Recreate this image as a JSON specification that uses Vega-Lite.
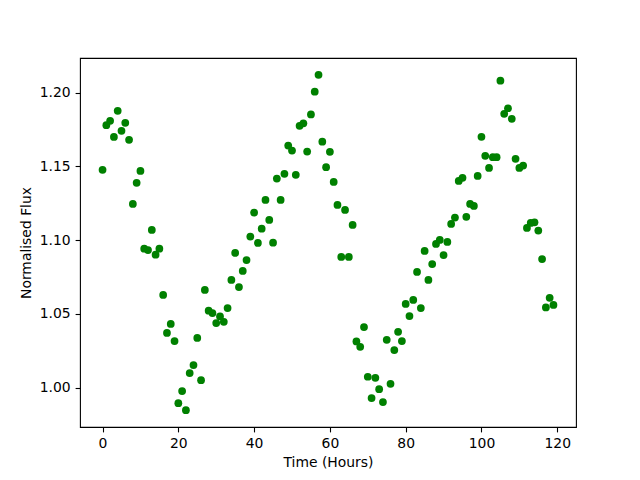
{
  "$schema": "https://vega.github.io/schema/vega-lite/v6.json",
  "width": 496,
  "height": 369,
  "padding": {"left": 80, "top": 58, "right": 64, "bottom": 53},
  "autosize": {"type": "none"},
  "background": "white",
  "config": {
    "font": "DejaVu Sans",
    "view": {"stroke": "black", "strokeWidth": 1.1},
    "axis": {
      "domain": false,
      "grid": false,
      "tickColor": "black",
      "tickWidth": 1.1,
      "tickSize": 4.9,
      "labelColor": "black",
      "labelFont": "DejaVu Sans",
      "labelFontSize": 13.9,
      "labelPadding": 5,
      "titleFont": "DejaVu Sans",
      "titleFontSize": 13.9,
      "titleFontWeight": "normal",
      "titleColor": "black"
    }
  },
  "data": {
    "values": [
      {"t": 0, "f": 1.1477}, {"t": 1, "f": 1.178}, {"t": 2, "f": 1.181}, {"t": 3, "f": 1.170},
      {"t": 4, "f": 1.1878}, {"t": 5, "f": 1.1742}, {"t": 6, "f": 1.1796}, {"t": 7, "f": 1.1681},
      {"t": 8, "f": 1.1246}, {"t": 9, "f": 1.1389}, {"t": 10, "f": 1.147}, {"t": 11, "f": 1.0942},
      {"t": 12, "f": 1.0933}, {"t": 13, "f": 1.1069}, {"t": 14, "f": 1.0901}, {"t": 15, "f": 1.0942},
      {"t": 16, "f": 1.0628}, {"t": 17, "f": 1.037}, {"t": 18, "f": 1.0431}, {"t": 19, "f": 1.0315},
      {"t": 20, "f": 0.9894}, {"t": 21, "f": 0.9976}, {"t": 22, "f": 0.9846}, {"t": 23, "f": 1.0098},
      {"t": 24, "f": 1.0152}, {"t": 25, "f": 1.0336}, {"t": 26, "f": 1.005}, {"t": 27, "f": 1.0662},
      {"t": 28, "f": 1.0521}, {"t": 29, "f": 1.0505}, {"t": 30, "f": 1.0437}, {"t": 31, "f": 1.0482},
      {"t": 32, "f": 1.0446}, {"t": 33, "f": 1.0539}, {"t": 34, "f": 1.073}, {"t": 35, "f": 1.0913},
      {"t": 36, "f": 1.0682}, {"t": 37, "f": 1.0791}, {"t": 38, "f": 1.0865}, {"t": 39, "f": 1.1024},
      {"t": 40, "f": 1.1187}, {"t": 41, "f": 1.0981}, {"t": 42, "f": 1.1078}, {"t": 43, "f": 1.1273},
      {"t": 44, "f": 1.1137}, {"t": 45, "f": 1.0983}, {"t": 46, "f": 1.1418}, {"t": 47, "f": 1.1273},
      {"t": 48, "f": 1.145}, {"t": 49, "f": 1.1642}, {"t": 50, "f": 1.1608}, {"t": 51, "f": 1.1443},
      {"t": 52, "f": 1.1776}, {"t": 53, "f": 1.1793}, {"t": 54, "f": 1.1601}, {"t": 55, "f": 1.1853},
      {"t": 56, "f": 1.2007}, {"t": 57, "f": 1.2122}, {"t": 58, "f": 1.1668}, {"t": 59, "f": 1.1495},
      {"t": 60, "f": 1.1599}, {"t": 61, "f": 1.1395}, {"t": 62, "f": 1.1239}, {"t": 63, "f": 1.0886},
      {"t": 64, "f": 1.1205}, {"t": 65, "f": 1.0886}, {"t": 66, "f": 1.1103}, {"t": 67, "f": 1.0313},
      {"t": 68, "f": 1.0276}, {"t": 69, "f": 1.041}, {"t": 70, "f": 1.0073}, {"t": 71, "f": 0.9928},
      {"t": 72, "f": 1.0066}, {"t": 73, "f": 0.9989}, {"t": 74, "f": 0.9901}, {"t": 75, "f": 1.0324},
      {"t": 76, "f": 1.0025}, {"t": 77, "f": 1.0254}, {"t": 78, "f": 1.0378}, {"t": 79, "f": 1.0315},
      {"t": 80, "f": 1.0567}, {"t": 81, "f": 1.0485}, {"t": 82, "f": 1.0594}, {"t": 83, "f": 1.0784},
      {"t": 84, "f": 1.0539}, {"t": 85, "f": 1.0927}, {"t": 86, "f": 1.073}, {"t": 87, "f": 1.0838},
      {"t": 88, "f": 1.0974}, {"t": 89, "f": 1.1001}, {"t": 90, "f": 1.0899}, {"t": 91, "f": 1.0988},
      {"t": 92, "f": 1.111}, {"t": 93, "f": 1.1153}, {"t": 94, "f": 1.1402}, {"t": 95, "f": 1.1423},
      {"t": 96, "f": 1.1158}, {"t": 97, "f": 1.1246}, {"t": 98, "f": 1.1232}, {"t": 99, "f": 1.1436},
      {"t": 100, "f": 1.1701}, {"t": 101, "f": 1.1572}, {"t": 102, "f": 1.149}, {"t": 103, "f": 1.1563},
      {"t": 104, "f": 1.1563}, {"t": 105, "f": 1.2082}, {"t": 106, "f": 1.1857}, {"t": 107, "f": 1.1895},
      {"t": 108, "f": 1.1823}, {"t": 109, "f": 1.1552}, {"t": 110, "f": 1.149}, {"t": 111, "f": 1.1506},
      {"t": 112, "f": 1.1083}, {"t": 113, "f": 1.1117}, {"t": 114, "f": 1.1121}, {"t": 115, "f": 1.1065},
      {"t": 116, "f": 1.0872}, {"t": 117, "f": 1.0543}, {"t": 118, "f": 1.0609}, {"t": 119, "f": 1.056}
    ]
  },
  "mark": {"type": "circle", "color": "#008000", "opacity": 1, "size": 60},
  "encoding": {
    "x": {
      "field": "t",
      "type": "quantitative",
      "title": "Time (Hours)",
      "scale": {"domain": [-5.95, 124.95], "nice": false, "zero": false},
      "axis": {"values": [0, 20, 40, 60, 80, 100, 120], "format": "d", "titlePadding": 5}
    },
    "y": {
      "field": "f",
      "type": "quantitative",
      "title": "Normalised Flux",
      "scale": {"domain": [0.9732, 1.2236], "nice": false, "zero": false},
      "axis": {"values": [1.0, 1.05, 1.1, 1.15, 1.2], "format": ".2f", "titlePadding": 6}
    }
  }
}
